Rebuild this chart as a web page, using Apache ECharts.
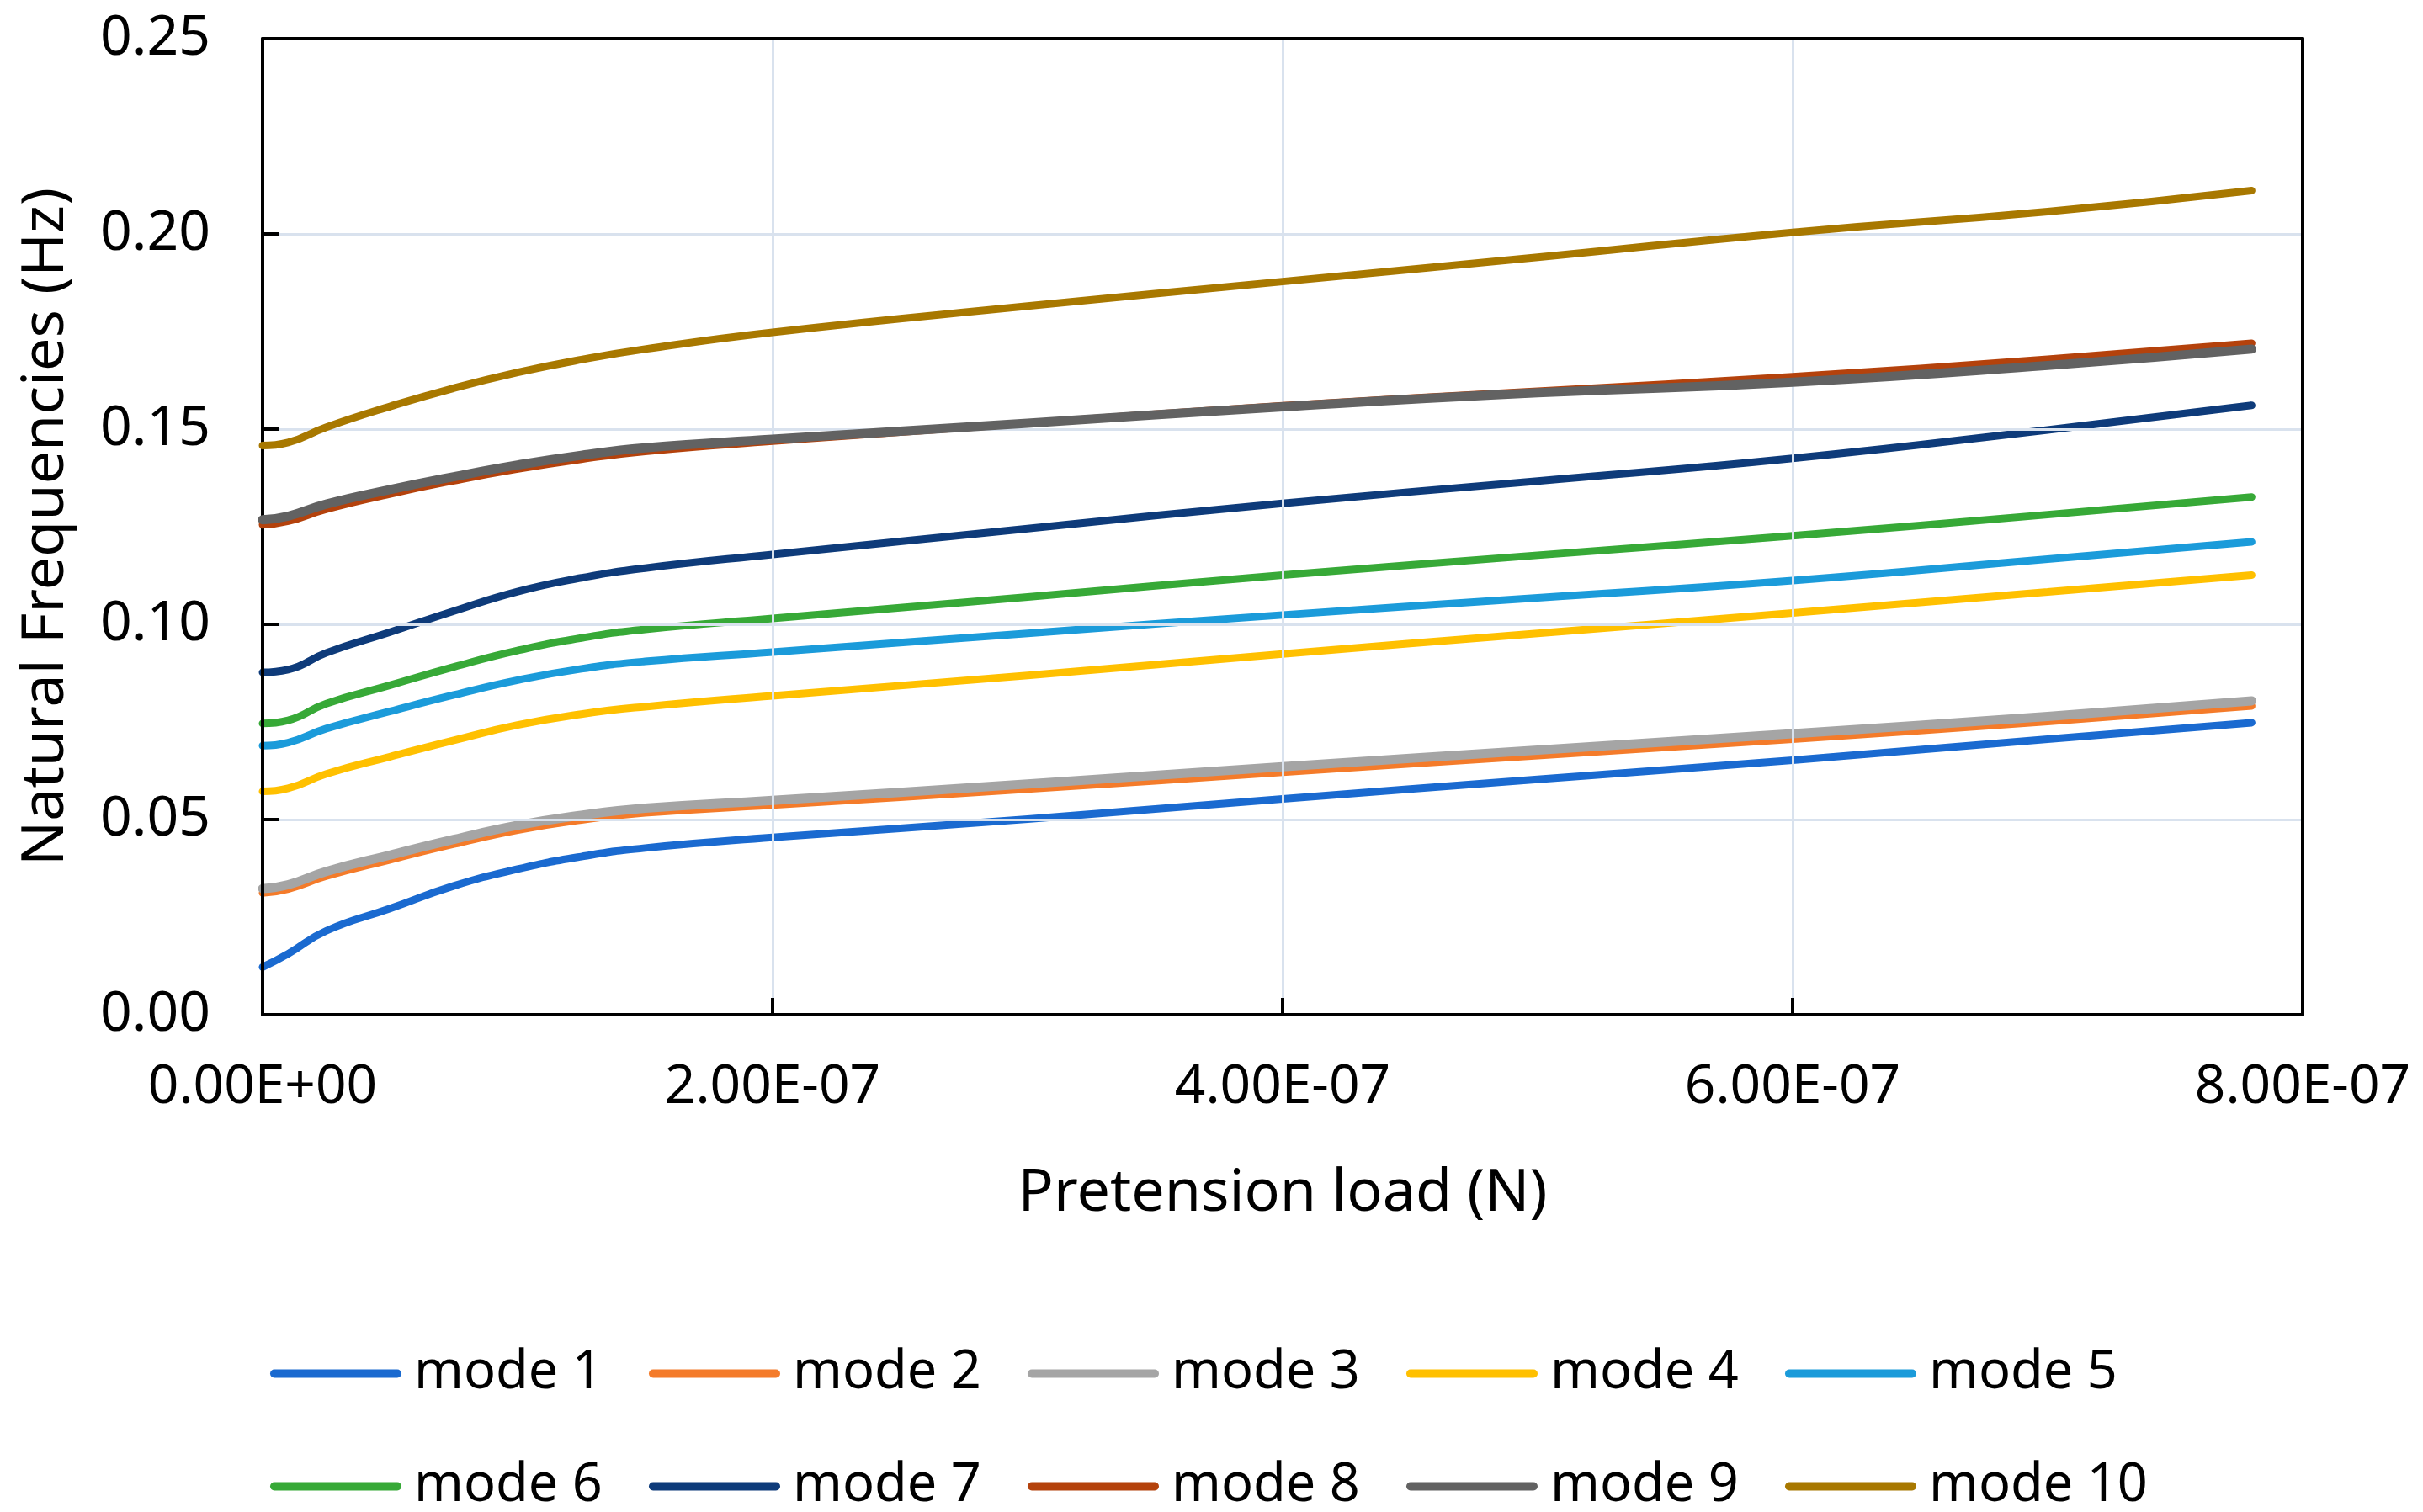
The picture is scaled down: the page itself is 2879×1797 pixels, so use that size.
<!DOCTYPE html>
<html>
<head>
<meta charset="utf-8">
<script src="https://cdn.jsdelivr.net/npm/echarts@6/dist/echarts.min.js"></script>
<style>
  html, body { margin: 0; padding: 0; background: #ffffff; }
  #chart { width: 2879px; height: 1797px; }
</style>
</head>
<body>
<div id="chart"></div>
<script>
// Pretension load (N), in units of 1e-7
const loadE7 = [0, 0.1, 0.25, 0.5, 0.75, 1.0, 1.25, 1.5, 2, 3, 4, 5, 6, 7, 7.8];

const seriesNames = ['mode 1', 'mode 2', 'mode 3', 'mode 4', 'mode 5',
                     'mode 6', 'mode 7', 'mode 8', 'mode 9', 'mode 10'];

const mode1  = [0.0122, 0.0156, 0.0215, 0.0272, 0.0330, 0.0373, 0.0405, 0.0427, 0.0454, 0.0501, 0.0553, 0.0603, 0.0652, 0.0706, 0.0748];
const mode2  = [0.0312, 0.0322, 0.0355, 0.0397, 0.0437, 0.0473, 0.0499, 0.0517, 0.0537, 0.0578, 0.0621, 0.0664, 0.0706, 0.0751, 0.0791];
const mode3  = [0.0323, 0.0333, 0.0367, 0.0409, 0.0449, 0.0485, 0.0511, 0.0529, 0.0549, 0.0591, 0.0635, 0.0678, 0.0720, 0.0764, 0.0804];
const mode4  = [0.0572, 0.0580, 0.0617, 0.0661, 0.0703, 0.0742, 0.0770, 0.0789, 0.0817, 0.0869, 0.0924, 0.0977, 0.1029, 0.1083, 0.1126];
const mode5  = [0.0689, 0.0697, 0.0733, 0.0777, 0.0819, 0.0857, 0.0886, 0.0905, 0.0929, 0.0977, 0.1024, 0.1068, 0.1112, 0.1167, 0.1211];
const mode6  = [0.0746, 0.0754, 0.0797, 0.0844, 0.0891, 0.0933, 0.0965, 0.0987, 0.1015, 0.1070, 0.1126, 0.1177, 0.1227, 0.1281, 0.1326];
const mode7  = [0.0877, 0.0884, 0.0927, 0.0980, 0.1034, 0.1084, 0.1119, 0.1144, 0.1179, 0.1245, 0.1310, 0.1367, 0.1425, 0.1498, 0.1561];
const mode8  = [0.1255, 0.1264, 0.1295, 0.1334, 0.1368, 0.1398, 0.1423, 0.1443, 0.1469, 0.1515, 0.1560, 0.1597, 0.1634, 0.1679, 0.1720];
const mode9  = [0.1268, 0.1277, 0.1308, 0.1345, 0.1378, 0.1408, 0.1433, 0.1452, 0.1474, 0.1515, 0.1557, 0.1593, 0.1620, 0.1663, 0.1705];
const mode10 = [0.1458, 0.1466, 0.1505, 0.1558, 0.1605, 0.1645, 0.1678, 0.1705, 0.1748, 0.1815, 0.1878, 0.1940, 0.2004, 0.2057, 0.2111];

const seriesValues = [mode1, mode2, mode3, mode4, mode5, mode6, mode7, mode8, mode9, mode10];

const colors = ['#1A6AD0', '#F47B2A', '#A5A5A5', '#FFC000', '#1B9BDA',
                '#37A937', '#0E3B7A', '#B4420C', '#626262', '#A87800'];
const widths = [9, 9, 11, 9, 9, 9, 9, 9, 11, 9];

const FONT = '"Noto Sans", "Open Sans", sans-serif';

function sci(v) {
  if (v === 0) return '0.00E+00';
  const exp = Math.floor(Math.log10(Math.abs(v)) + 1e-9);
  const mant = v / Math.pow(10, exp);
  const sign = exp < 0 ? '-' : '+';
  const e = String(Math.abs(exp)).padStart(2, '0');
  return mant.toFixed(2) + 'E' + sign + e;
}

const series = seriesNames.map((name, i) => ({
  name: name,
  type: 'line',
  xAxisIndex: 0,
  yAxisIndex: 0,
  data: loadE7.map((x, j) => [x * 1e-7, seriesValues[i][j]]),
  showSymbol: false,
  symbol: 'none',
  smooth: 0.5,
  color: colors[i],
  lineStyle: { width: widths[i], color: colors[i], cap: 'round', join: 'round' },
  z: 3 + i
}));

const capsule = 'path://M5,0 L151,0 A5,5 0 0 1 151,10 L5,10 A5,5 0 0 1 5,0 Z';
const legendCols = [321, 771, 1221, 1671, 2121];
const legendRows = [1601, 1735];
const legends = seriesNames.map((name, i) => ({
  data: [{ name: name, icon: capsule, itemStyle: { color: colors[i] } }],
  left: legendCols[i % 5],
  top: legendRows[Math.floor(i / 5)],
  orient: 'horizontal',
  itemWidth: 156,
  itemHeight: 11,
  itemGap: 0,
  padding: 0,
  selectedMode: false,
  textStyle: { fontFamily: FONT, fontSize: 63, color: '#000', lineHeight: 63, padding: [0, 0, 0, 10] }
}));

const frameAxisLine = { show: true, onZero: false, lineStyle: { color: '#000', width: 4 } };

const chart = echarts.init(document.getElementById('chart'), null, { renderer: 'canvas' });
chart.setOption({
  backgroundColor: '#ffffff',
  animation: false,
  textStyle: { fontFamily: FONT },
  grid: {
    left: 312, right: 143, top: 46, bottom: 591,
    show: false, containLabel: false
  },
  legend: legends,
  xAxis: [{
    type: 'value',
    min: 0, max: 8e-7, interval: 2e-7,
    name: 'Pretension load (N)',
    nameLocation: 'middle',
    nameGap: 178,
    nameTextStyle: { fontFamily: FONT, fontSize: 70, color: '#000' },
    axisLine: frameAxisLine,
    axisTick: { show: true, inside: true, length: 20, lineStyle: { color: '#000', width: 4 } },
    axisLabel: { fontFamily: FONT, fontSize: 64, color: '#000', margin: 55, formatter: sci,
                 showMinLabel: true, showMaxLabel: true },
    splitLine: { show: true, lineStyle: { color: '#D9E2EE', width: 3 } },
    z: 10
  }, {
    type: 'value', position: 'top',
    min: 0, max: 8e-7, interval: 2e-7,
    axisLine: frameAxisLine, axisTick: { show: false }, axisLabel: { show: false },
    splitLine: { show: false }, z: 10
  }],
  yAxis: [{
    type: 'value',
    min: 0, max: 0.25, interval: 0.05,
    name: 'Natural Frequencies (Hz)',
    nameLocation: 'middle',
    nameGap: 222,
    nameRotate: 90,
    nameTextStyle: { fontFamily: FONT, fontSize: 70, color: '#000' },
    axisLine: frameAxisLine,
    axisTick: { show: true, inside: true, length: 20, lineStyle: { color: '#000', width: 4 } },
    axisLabel: { fontFamily: FONT, fontSize: 66, color: '#000', margin: 62,
                 formatter: v => v.toFixed(2) },
    splitLine: { show: true, lineStyle: { color: '#D9E2EE', width: 3 } },
    z: 10
  }, {
    type: 'value', position: 'right',
    min: 0, max: 0.25, interval: 0.05,
    axisLine: frameAxisLine, axisTick: { show: false }, axisLabel: { show: false },
    splitLine: { show: false }, z: 10
  }],
  series: series
});
</script>
</body>
</html>
